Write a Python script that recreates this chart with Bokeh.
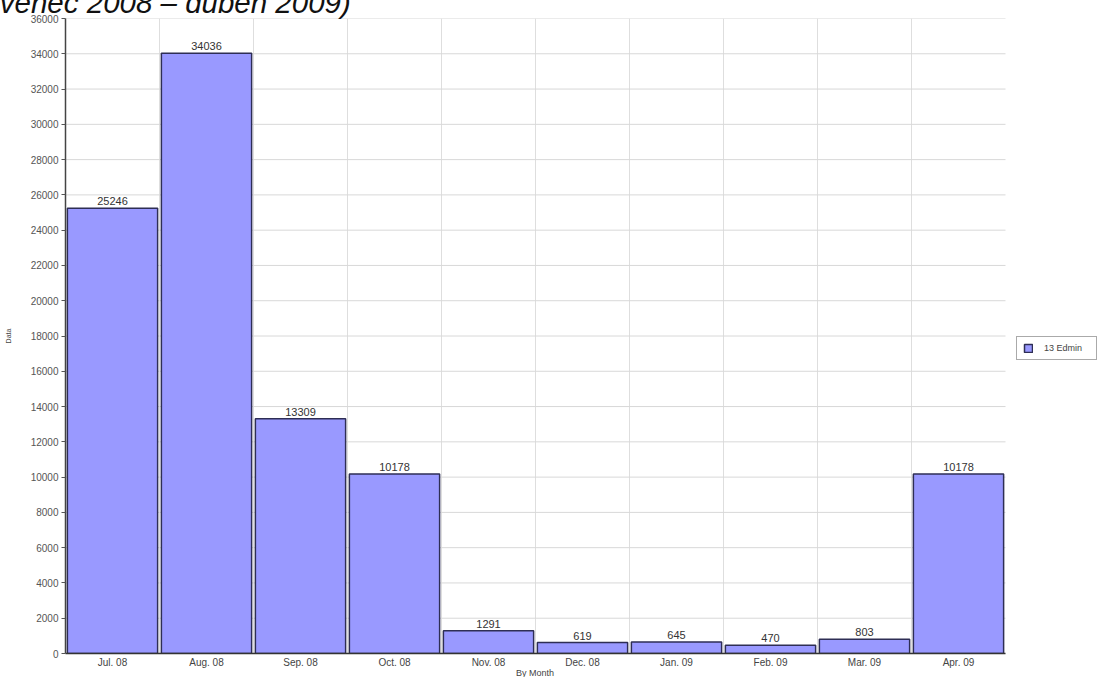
from bokeh.plotting import figure
from bokeh.layouts import column
from bokeh.models import (ColumnDataSource, Range1d, FixedTicker, Legend, LegendItem, Div)
from bokeh.core.properties import value
from bokeh.embed import file_html
from bokeh.resources import INLINE

months = ["Jul. 08", "Aug. 08", "Sep. 08", "Oct. 08", "Nov. 08",
          "Dec. 08", "Jan. 09", "Feb. 09", "Mar. 09", "Apr. 09"]
counts = [25246, 34036, 13309, 10178, 1291, 619, 645, 470, 803, 10178]
series_name = "13 Edmin"
title_text = "(červenec 2008 – duben 2009)"
x_title = "By Month"
y_title = "Data"
y_ticks = list(range(0, 36001, 2000))

FONT = "Liberation Sans"
W, H = 1111, 677
LEFT, TOP, BOTTOM = 65, 18, 24
BARS_PX = 940            # width taken by the ten categories
FRAME_PX = W - LEFT      # frame runs to the right edge so the legend fits inside

n = len(months)
xs = [i + 0.5 for i in range(n)]
src = ColumnDataSource(dict(x=xs, top=counts, lbl=[str(c) for c in counts]))

p = figure(width=W, height=H, output_backend="svg", toolbar_location=None,
           x_range=Range1d(0, n * FRAME_PX / BARS_PX), y_range=Range1d(0, 36000),
           min_border_left=LEFT, min_border_right=0, min_border_top=TOP,
           min_border_bottom=BOTTOM)
p.outline_line_color = None
p.background_fill_color = "white"
p.border_fill_alpha = 0

# grid: vertical lines at category boundaries, horizontal lines only over the bars
p.xgrid.ticker = FixedTicker(ticks=list(range(n)))
p.xgrid.grid_line_color = "#dedede"
p.ygrid.visible = False
p.segment(x0=[0] * len(y_ticks), x1=[n] * len(y_ticks), y0=y_ticks, y1=y_ticks,
          line_color="#d8d8d8", line_width=1)

r = p.vbar(x="x", top="top", width=0.96, bottom=0, source=src,
           fill_color="#9999ff", line_color="#2e2e55", line_width=1.5)

p.text(x="x", y="top", text="lbl", source=src, text_align="center",
       text_baseline="bottom", y_offset=-3, text_font_size="11px",
       text_color="#333333", text_font=value(FONT))

# x axis
p.xaxis.ticker = FixedTicker(ticks=xs)
p.xaxis.bounds = (0, n)
p.xaxis.major_label_overrides = {x: m for x, m in zip(xs, months)}
p.xaxis.major_tick_line_color = None
p.xaxis.major_tick_out = 0
p.xaxis.major_tick_in = 0
p.xaxis.minor_tick_line_color = None
p.xaxis.axis_line_color = "#333333"
p.xaxis.axis_line_width = 1.5
p.xaxis.major_label_text_font_size = "10px"
p.xaxis.major_label_text_color = "#444444"
p.xaxis.major_label_text_font = FONT
p.xaxis.major_label_standoff = 3

# y axis
p.yaxis.ticker = FixedTicker(ticks=y_ticks)
p.yaxis.minor_tick_line_color = None
p.yaxis.major_tick_in = 0
p.yaxis.major_tick_out = 4
p.yaxis.major_tick_line_color = "#555555"
p.yaxis.axis_line_color = "#444444"
p.yaxis.axis_line_width = 1.5
p.yaxis.major_label_text_font_size = "10px"
p.yaxis.major_label_text_color = "#555555"
p.yaxis.major_label_text_font = FONT
p.yaxis.major_label_standoff = 3
p.yaxis.axis_label = y_title
p.yaxis.axis_label_text_font_size = "7px"
p.yaxis.axis_label_text_font_style = "normal"
p.yaxis.axis_label_text_color = "#444444"
p.yaxis.axis_label_text_font = FONT
p.yaxis.axis_label_standoff = 16

legend = Legend(items=[LegendItem(label=series_name, renderers=[r])],
                location=(951, 293), orientation="vertical",
                border_line_color="#555555", border_line_width=1,
                background_fill_color="white", padding=6, spacing=0,
                glyph_width=10, glyph_height=10, label_text_font_size="9px",
                label_text_color="#444444", label_text_font=FONT,
                label_standoff=11, label_width=46, margin=0)
p.add_layout(legend, "center")

overlay_html = (
    '<div style="font-family: \'Liberation Sans\', Arial, sans-serif; '
    'font-style: italic; font-size: 29.5px; line-height: 29px; white-space: nowrap; '
    'position: relative; left: -51px; top: -12px; color: #111;">'
    + title_text + '</div>'
    '<div style="font-family: \'Liberation Sans\', Arial, sans-serif; '
    'font-size: 9px; line-height: 11px; white-space: nowrap; text-align: center; '
    'position: relative; left: 0px; top: 639px; width: 1070px; color: #444;">'
    + x_title + '</div>'
)
overlay = Div(text=overlay_html, width=W, height=18, margin=(-H, 0, 0, 0))

layout = column(p, overlay, spacing=0)

open("out.html", "w").write(file_html(layout, INLINE))
